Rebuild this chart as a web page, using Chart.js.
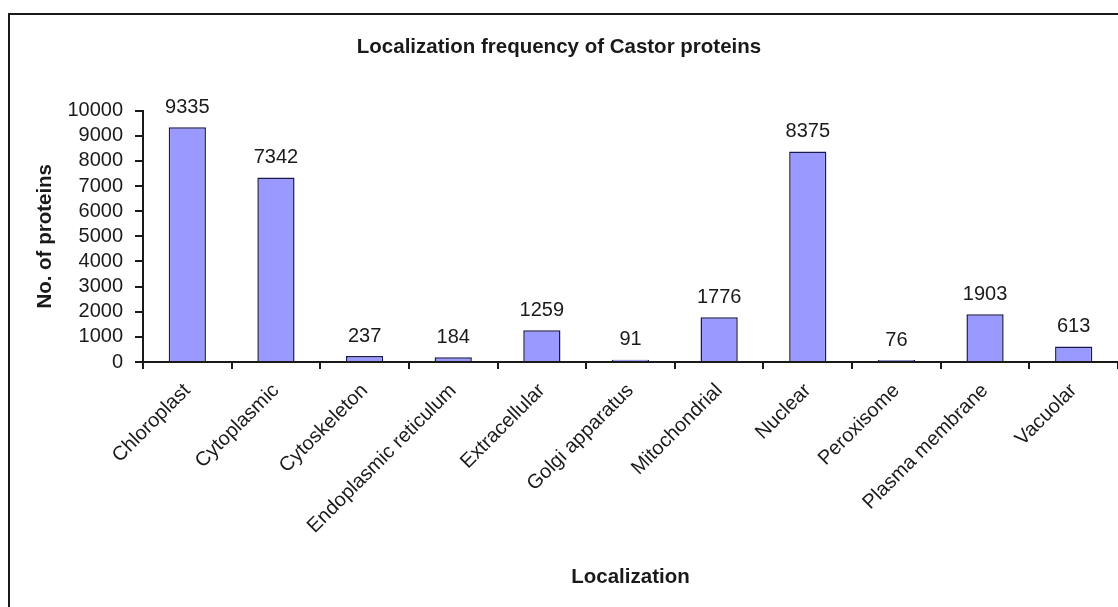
<!DOCTYPE html>
<html>
<head>
<meta charset="utf-8">
<script src="https://cdn.jsdelivr.net/npm/chart.js@4/dist/chart.umd.min.js"></script>
<style>
  html, body { margin: 0; padding: 0; background: #fff; overflow: hidden; }
  #wrap { position: relative; width: 1118px; height: 607px; }
  #frame { position: absolute; left: 8px; top: 13px; width: 1200px; height: 700px; border: 2px solid #1a1a1a; }
  canvas { position: absolute; left: 0; top: 0; }
</style>
</head>
<body>
<div id="wrap">
  <div id="frame"></div>
  <canvas id="chart" width="1118" height="607"></canvas>
</div>
<script>
const categories = ["Chloroplast", "Cytoplasmic", "Cytoskeleton", "Endoplasmic reticulum", "Extracellular",
  "Golgi apparatus", "Mitochondrial", "Nuclear", "Peroxisome", "Plasma membrane", "Vacuolar"];
const proteinCounts = [9335, 7342, 237, 184, 1259, 91, 1776, 8375, 76, 1903, 613];
const yTicks = [0, 1000, 2000, 3000, 4000, 5000, 6000, 7000, 8000, 9000, 10000];

const fontFamily = "'Liberation Sans', Arial, sans-serif";
const ink = "#1a1a1a";

const barLabels = {
  id: "barLabels",
  afterDatasetsDraw(chart) {
    const ctx = chart.ctx;
    const meta = chart.getDatasetMeta(0);
    ctx.save();
    ctx.font = `20px ${fontFamily}`;
    ctx.fillStyle = ink;
    ctx.textAlign = "center";
    ctx.textBaseline = "bottom";
    meta.data.forEach((bar, i) => {
      ctx.fillText(String(proteinCounts[i]), bar.x, bar.y - 10);
    });
    ctx.restore();
  }
};

new Chart(document.getElementById("chart"), {
  type: "bar",
  data: {
    labels: categories,
    datasets: [{
      data: proteinCounts,
      backgroundColor: "#9999ff",
      borderColor: "#1a1a4a",
      borderWidth: 1.5,
      barPercentage: 0.42,
      categoryPercentage: 1
    }]
  },
  options: {
    responsive: false,
    animation: false,
    layout: { padding: { left: 0, right: 0, top: 0, bottom: 0 } },
    plugins: {
      legend: { display: false },
      tooltip: { enabled: false },
      title: {
        display: true,
        text: "Localization frequency of Castor proteins",
        color: ink,
        font: { family: fontFamily, size: 20.5, weight: "bold" },
        padding: { top: 35, bottom: 51 }
      }
    },
    scales: {
      x: {
        afterFit(scale) { scale.height = 245; },
        grid: { drawOnChartArea: false, offset: true, tickLength: 7, color: ink, lineWidth: 2 },
        border: { color: ink, width: 2 },
        ticks: {
          color: ink,
          font: { family: fontFamily, size: 20 },
          maxRotation: 45,
          minRotation: 45,
          padding: 10,
          autoSkip: false
        },
        title: {
          display: true,
          text: "Localization",
          color: ink,
          font: { family: fontFamily, size: 20.5, weight: "bold" },
          padding: { top: 0, bottom: 17 }
        }
      },
      y: {
        min: 0,
        max: 10000,
        afterFit(scale) { scale.width = 143; },
        afterBuildTicks(scale) { scale.ticks = yTicks.map(v => ({ value: v })); },
        grid: { drawOnChartArea: false, tickLength: 8, color: ink, lineWidth: 2 },
        border: { color: ink, width: 2 },
        ticks: {
          color: ink,
          font: { family: fontFamily, size: 20 },
          padding: 12,
          autoSkip: false,
          callback: value => String(value)
        },
        title: {
          display: true,
          text: "No. of proteins",
          color: ink,
          font: { family: fontFamily, size: 20.5, weight: "bold" },
          padding: { top: 33, bottom: 0 }
        }
      }
    }
  },
  plugins: [barLabels]
});
</script>
</body>
</html>
